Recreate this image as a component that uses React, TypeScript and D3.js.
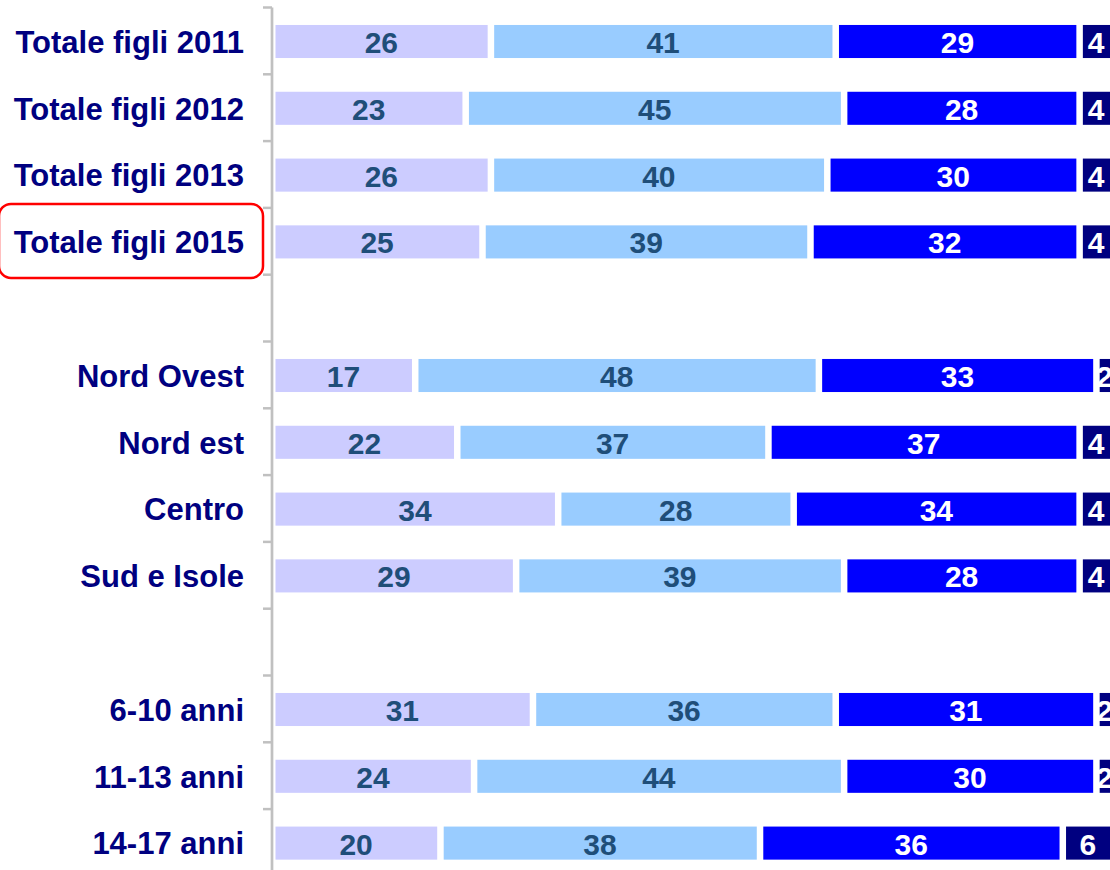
import { scaleBand, scaleLinear } from "d3";

const width = 1110;
const height = 870;

const rowLabels = [
  "Totale figli 2011",
  "Totale figli 2012",
  "Totale figli 2013",
  "Totale figli 2015",
  "",
  "Nord Ovest",
  "Nord est",
  "Centro",
  "Sud e Isole",
  "",
  "6-10 anni",
  "11-13 anni",
  "14-17 anni",
];
const serie1 = [26, 23, 26, 25, null, 17, 22, 34, 29, null, 31, 24, 20];
const serie2 = [41, 45, 40, 39, null, 48, 37, 28, 39, null, 36, 44, 38];
const serie3 = [29, 28, 30, 32, null, 33, 37, 34, 28, null, 31, 30, 36];
const serie4 = [4, 4, 4, 4, null, 2, 4, 4, 4, null, 2, 2, 6];

const seriesColors = ["#ccccff", "#99ccff", "#0000ff", "#000080"];
const textColors = ["#1f4e79", "#1f4e79", "#ffffff", "#ffffff"];
const highlighted = "Totale figli 2015";

const axisX = 272;
const rowStep = 66.8;
const top = 7.5;
const font = "'Liberation Sans', Arial, Helvetica, sans-serif";

const App = () => {
  const rows = rowLabels.map((_, i) => i);
  const yScale = scaleBand<number>()
    .domain(rows)
    .range([top, top + rowStep * rows.length])
    .paddingInner(0.505)
    .paddingOuter(0.2525);
  const xScale = scaleLinear().domain([0, 100]).range([axisX, axisX + 841]);

  const series = [serie1, serie2, serie3, serie4];
  const gap = 3;

  return (
    <svg
      width={width}
      height={height}
      style={{ position: "absolute", left: 0, top: 0, background: "#fff" }}
      fontFamily={font}
      fontWeight="bold"
    >
      {/* bars */}
      {rows.map((r) => {
        if (serie1[r] === null) return null;
        let acc = 0;
        const y0 = (yScale(r) as number) + 0.6;
        const bh = yScale.bandwidth();
        return (
          <g key={r}>
            {series.map((s, si) => {
              const v = s[r] as number;
              const start = acc;
              acc += v;
              const x0 = xScale(start) + gap + 0.5;
              const x1 = xScale(acc) - gap;
              return (
                <g key={si}>
                  <rect
                    x={x0}
                    y={y0}
                    width={x1 - x0}
                    height={bh}
                    fill={seriesColors[si]}
                  />
                  <text
                    x={(xScale(start) + xScale(acc)) / 2}
                    y={y0 + bh / 2 + 11.5}
                    textAnchor="middle"
                    fontSize={30}
                    fill={textColors[si]}
                  >
                    {v}
                  </text>
                </g>
              );
            })}
          </g>
        );
      })}

      {/* axis */}
      <line
        x1={axisX}
        x2={axisX}
        y1={top}
        y2={height}
        stroke="#c0c0c0"
        strokeWidth={2.7}
      />
      {rows.concat([rows.length]).map((i) => (
        <line
          key={i}
          x1={263}
          x2={axisX}
          y1={top + rowStep * i}
          y2={top + rowStep * i}
          stroke="#c0c0c0"
          strokeWidth={2.5}
        />
      ))}

      {/* row labels */}
      {rows.map((r) => {
        const cy = top + rowStep * (r + 0.5);
        return (
          <g key={r}>
            {rowLabels[r] === highlighted && (
              <rect
                x={-1}
                y={top + rowStep * r - 4}
                width={264}
                height={74}
                rx={12}
                fill="none"
                stroke="#ff0000"
                strokeWidth={2.5}
              />
            )}
            <text
              x={244}
              y={cy + 11.8}
              textAnchor="end"
              fontSize={31}
              fill="#000080"
            >
              {rowLabels[r]}
            </text>
          </g>
        );
      })}
    </svg>
  );
};

export default App;
